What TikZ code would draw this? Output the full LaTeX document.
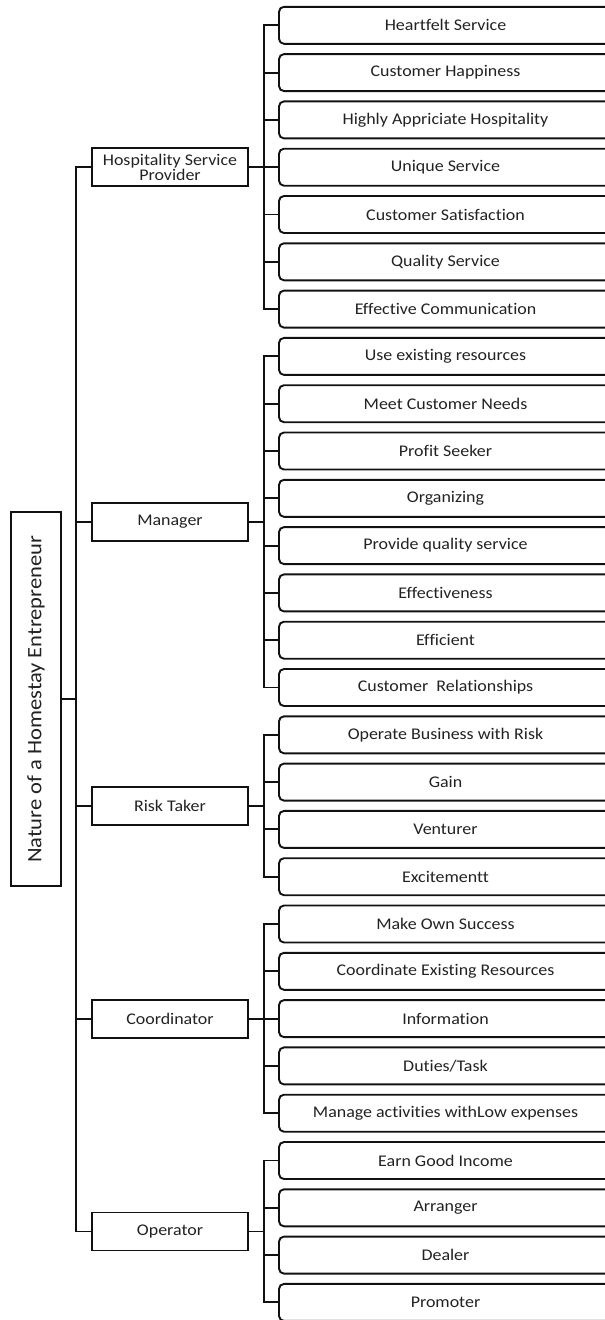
\documentclass[tikz,border=0pt]{standalone}
\usepackage{fontspec}
\setmainfont{Carlito}[FakeStretch=1.1, Ligatures={NoCommon}]
\definecolor{txt}{HTML}{222222}
\definecolor{ln}{HTML}{111111}
\tikzset{
  conn/.style={draw=ln, line width=1.9pt},
  leafbox/.style={draw=ln, line width=1.9pt, rounded corners=5pt, minimum width=333pt, minimum height=37pt, inner sep=0pt, text=txt, font=\fontsize{16.3}{18}\selectfont},
  rolebox/.style={draw=ln, line width=1.9pt, minimum width=156pt, minimum height=38pt, inner sep=0pt, text=txt, align=center, font=\fontsize{16.3}{15}\selectfont},
  rootbox/.style={draw=ln, line width=1.9pt, minimum width=374pt, minimum height=50pt, inner sep=0pt, text=txt, rotate=90, font=\fontsize{20.5}{22}\selectfont}
}
\begin{document}
\begin{tikzpicture}[x=1pt,y=-1pt]
\useasboundingbox (0,0) rectangle (605,1320);
\clip (0,0) rectangle (605,1320);
\coordinate (ms) at (76,0);
\coordinate (gs) at (264,0);
% leaf boxes
\foreach \t [count=\i from 0] in {Heartfelt Service, Customer Happiness, Highly Appriciate Hospitality, Unique Service, Customer Satisfaction, Quality Service, Effective Communication, Use existing resources, Meet Customer Needs, Profit Seeker, Organizing, Provide quality service, Effectiveness, Efficient, {Customer\ \ Relationships}, Operate Business with Risk, Gain, Venturer, Excitementt, Make Own Success, Coordinate Existing Resources, Information, Duties/Task, Manage activities withLow expenses, Earn Good Income, Arranger, Dealer, Promoter}
  \node[leafbox] (c\i) at (445.5, 25.3+47.3*\i) {\t};
% role boxes
\node[rolebox] (hsp) at (170, 167.2) {Hospitality Service\\Provider};
\node[rolebox] (mgr) at (170, 522.0) {Manager};
\node[rolebox] (rsk) at (170, 805.75) {Risk Taker};
\node[rolebox] (crd) at (170, 1018.6) {Coordinator};
\node[rolebox] (opr) at (170, 1231.45) {Operator};
% root
\node[rootbox] (root) at (36, 699.3) {Nature of a Homestay Entrepreneur};
% main spine
\draw[conn] (root.south) -- (root.south -| ms);
\draw[conn] (hsp.west) -- (hsp.west -| ms) -- (opr.west -| ms) -- (opr.west);
\foreach \n in {mgr, rsk, crd} \draw[conn] (\n.west) -- (\n.west -| ms);
% group spines
\draw[conn] (hsp.east) -- (hsp.east -| gs);
\draw[conn] (c0.west) -- (c0.west -| gs) -- (c6.west -| gs) -- (c6.west);
\foreach \k in {1,...,5} \draw[conn] (c\k.west) -- (c\k.west -| gs);
\draw[conn] (mgr.east) -- (mgr.east -| gs);
\draw[conn] (c7.west) -- (c7.west -| gs) -- (c14.west -| gs) -- (c14.west);
\foreach \k in {8,...,13} \draw[conn] (c\k.west) -- (c\k.west -| gs);
\draw[conn] (rsk.east) -- (rsk.east -| gs);
\draw[conn] (c15.west) -- (c15.west -| gs) -- (c18.west -| gs) -- (c18.west);
\foreach \k in {16,17} \draw[conn] (c\k.west) -- (c\k.west -| gs);
\draw[conn] (crd.east) -- (crd.east -| gs);
\draw[conn] (c19.west) -- (c19.west -| gs) -- (c23.west -| gs) -- (c23.west);
\foreach \k in {20,...,22} \draw[conn] (c\k.west) -- (c\k.west -| gs);
\draw[conn] (opr.east) -- (opr.east -| gs);
\draw[conn] (c24.west) -- (c24.west -| gs) -- (c27.west -| gs) -- (c27.west);
\foreach \k in {25,26} \draw[conn] (c\k.west) -- (c\k.west -| gs);
\end{tikzpicture}
\end{document}
